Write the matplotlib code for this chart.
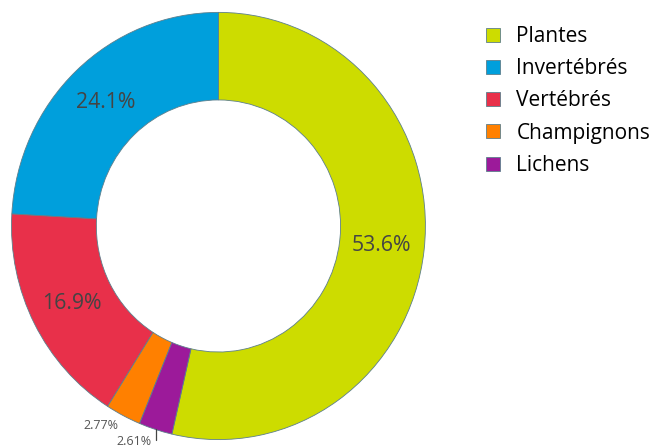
import numpy as np
import matplotlib
matplotlib.use("Agg")
import matplotlib.pyplot as plt

plt.rcParams["font.family"] = ["Open Sans", "DejaVu Sans"]

labels = ["Plantes", "Invertébrés", "Vertébrés", "Champignons", "Lichens"]
values = [53.6, 24.1, 16.9, 2.77, 2.61]
colors = ["#cddc00", "#009fdc", "#e8304a", "#ff8000", "#9c1a9a"]

# plotly-ish: first slice ends at 12 o'clock, the rest go on counterclockwise
start = 90 - 360 * values[0] / sum(values)


def fmt(p):
    # small slices get their labels outside
    return f"{p:.3g}%" if p > 5 else ""


fig = plt.figure(figsize=(6.57, 4.47), dpi=100)
ax = fig.add_axes([0.0175, 0.0166, 0.630, 0.9557])

wedges, texts, autotexts = ax.pie(
    values, colors=colors, startangle=start, counterclock=True,
    autopct=fmt, pctdistance=0.795,
    wedgeprops=dict(width=0.41, edgecolor="#5d7f8c", linewidth=0.6),
    textprops=dict(color="#444444", fontsize=15.3),
)
ax.set_aspect("auto")
ax.set_xlim(-1, 1)
ax.set_ylim(-1, 1)

# outside labels for the thin slices
for i, r in [(3, 1.05), (4, 1.058)]:
    w = wedges[i]
    th = np.deg2rad((w.theta1 + w.theta2) / 2)
    pct = f"{values[i] / sum(values) * 100:.3g}%"
    if i == 4:
        ax.annotate(pct, xy=(np.cos(th), np.sin(th)),
                    xytext=(r * np.cos(th), r * np.sin(th)),
                    ha="right", va="center", fontsize=9, color="#555555",
                    annotation_clip=False,
                    arrowprops=dict(arrowstyle="-", color="#444444", lw=0.9,
                                    shrinkA=1, shrinkB=0,
                                    connectionstyle="angle,angleA=0,angleB=90,rad=0"))
    else:
        ax.text(r * np.cos(th), r * np.sin(th), pct, ha="right", va="center",
                fontsize=9, color="#555555", clip_on=False)

fig.legend(wedges, labels, loc="upper left", bbox_to_anchor=(0.740, 1 - 26 / 447),
           frameon=False, fontsize=15, handlelength=0.65, handleheight=0.65,
           handletextpad=0.8, labelspacing=0.54, borderpad=0, borderaxespad=0)

fig.savefig("out.png", dpi=100)
